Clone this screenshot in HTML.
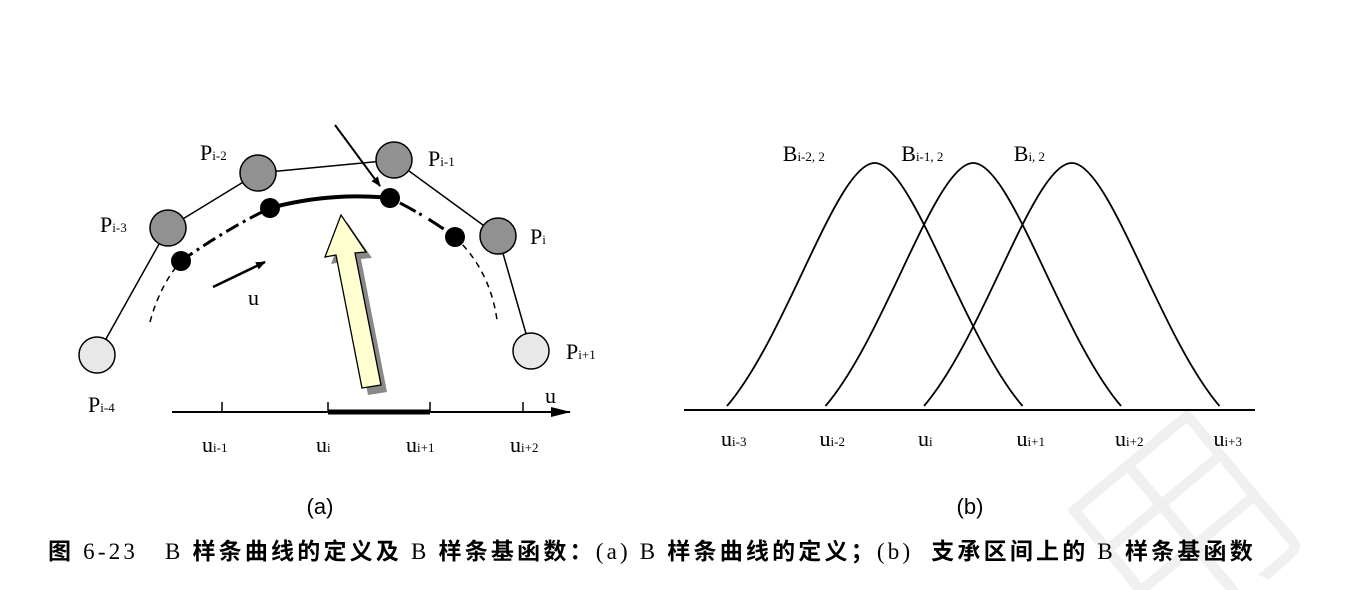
<!DOCTYPE html>
<html><head><meta charset="utf-8">
<style>
html,body{margin:0;padding:0;background:#fff;width:1360px;height:590px;overflow:hidden}
svg{display:block}
.s{font-family:"Liberation Serif","Noto Serif CJK SC",serif}
.sub{font-size:13px}
.cj{font-family:"Noto Sans CJK SC",sans-serif;font-weight:bold}
</style></head>
<body>
<svg width="1360" height="590" viewBox="0 0 1360 590" style="overflow:hidden">
<defs>
<marker id="ah" markerWidth="10" markerHeight="8" refX="9" refY="4" orient="auto" markerUnits="userSpaceOnUse"><path d="M0,0 L10,4 L0,8 Z" fill="#000"/></marker>
<marker id="ah2" markerWidth="20" markerHeight="10" refX="19" refY="5" orient="auto" markerUnits="userSpaceOnUse"><path d="M0,0 L20,5 L0,10 Z" fill="#000"/></marker>
<clipPath id="clipAll"><rect x="0" y="0" width="1360" height="590"/></clipPath>
</defs>
<g clip-path="url(#clipAll)">
<text x="1060" y="620" font-size="220" fill="#f0f0f0" transform="rotate(-40 1160 520)" font-family="Noto Sans CJK SC, sans-serif" font-weight="300">用</text>
</g>

<g>
<polyline points="97,355 168,228 258,173 394,160 498,236 531,351" fill="none" stroke="#000" stroke-width="1.5"/>
<path d="M150,322 Q160,285 181,261" fill="none" stroke="#000" stroke-width="1.5" stroke-dasharray="6,5"/>
<path d="M181,261 Q225,230 270,208" fill="none" stroke="#000" stroke-width="3" stroke-dasharray="14,5,3,5"/>
<path d="M270,208 Q330,192 390,198" fill="none" stroke="#000" stroke-width="4"/>
<path d="M390,198 Q425,215 455,237" fill="none" stroke="#000" stroke-width="3" stroke-dasharray="3,8,18,4"/>
<path d="M455,237 Q490,270 497,320" fill="none" stroke="#000" stroke-width="1.5" stroke-dasharray="6,5"/>
<circle cx="97" cy="355" r="18" fill="#e8e8e8" stroke="#000" stroke-width="1.5"/>
<circle cx="168" cy="228" r="18" fill="#919191" stroke="#000" stroke-width="1.5"/>
<circle cx="258" cy="173" r="18" fill="#919191" stroke="#000" stroke-width="1.5"/>
<circle cx="394" cy="160" r="18" fill="#919191" stroke="#000" stroke-width="1.5"/>
<circle cx="498" cy="236" r="18" fill="#919191" stroke="#000" stroke-width="1.5"/>
<circle cx="531" cy="351" r="18" fill="#e8e8e8" stroke="#000" stroke-width="1.5"/>
<circle cx="181" cy="261" r="10" fill="#000"/>
<circle cx="270" cy="208" r="10" fill="#000"/>
<circle cx="390" cy="198" r="10" fill="#000"/>
<circle cx="455" cy="237" r="10" fill="#000"/>
<line x1="335" y1="125" x2="380" y2="186" stroke="#000" stroke-width="2" marker-end="url(#ah)"/>
<line x1="213" y1="287" x2="265" y2="262" stroke="#000" stroke-width="2.5" marker-end="url(#ah)"/>
<text x="248" y="305" class="s" font-size="22">u</text>
<polygon points="347,222 372,258 361,259 387,392 368,395 342,262 331,264" fill="#888"/>
<polygon points="341,215 366,252 355,253 381,385 362,388 336,255 325,257" fill="#ffffd0" stroke="#000" stroke-width="1.3"/>
<g class="s" font-size="22">
<text x="200" y="160">P<tspan class="sub">i-2</tspan></text>
<text x="100" y="232">P<tspan class="sub">i-3</tspan></text>
<text x="428" y="166">P<tspan class="sub">i-1</tspan></text>
<text x="530" y="244">P<tspan class="sub">i</tspan></text>
<text x="566" y="359">P<tspan class="sub">i+1</tspan></text>
<text x="88" y="412">P<tspan class="sub">i-4</tspan></text>
<text x="545" y="403">u</text>
<text x="202" y="452">u<tspan class="sub">i-1</tspan></text>
<text x="316" y="452">u<tspan class="sub">i</tspan></text>
<text x="406" y="452">u<tspan class="sub">i+1</tspan></text>
<text x="510" y="452">u<tspan class="sub">i+2</tspan></text>
</g>
<line x1="172" y1="412" x2="570" y2="412" stroke="#000" stroke-width="2" marker-end="url(#ah2)"/>
<line x1="328" y1="412" x2="430" y2="412" stroke="#000" stroke-width="5"/>
<g stroke="#000" stroke-width="1.5">
<line x1="222" y1="402" x2="222" y2="412"/><line x1="328" y1="402" x2="328" y2="412"/><line x1="430" y1="402" x2="430" y2="412"/><line x1="523" y1="402" x2="523" y2="412"/>
</g>
<text x="320" y="514" font-family="Liberation Sans, sans-serif" font-size="22" text-anchor="middle">(a)</text>
</g>

<g id="panelB">
<line x1="684" y1="410" x2="1255" y2="410" stroke="#000" stroke-width="2"/>
<text x="970" y="514" font-family="Liberation Sans, sans-serif" font-size="22" text-anchor="middle">(b)</text>
</g>

<text x="48" y="559" font-family="Liberation Serif, Noto Sans CJK SC, sans-serif" font-size="23" letter-spacing="3.2" xml:space="preserve"><tspan class="cj">图</tspan> 6-23   B <tspan class="cj">样条曲线的定义及</tspan> B <tspan class="cj">样条基函数：</tspan>(a) B <tspan class="cj">样条曲线的定义；</tspan>(b)  <tspan class="cj">支承区间上的</tspan> B <tspan class="cj">样条基函数</tspan></text>
</svg>
<script>
var knots = [0, 1, 2, 3, 4, 5];
var knotLabels = ['i-3','i-2','i','i+1','i+2','i+3'];
var basisNames = ['i-2, 2','i-1, 2','i, 2'];
var basisStart = [0, 1, 2];
var basisPeak = [1, 1, 1];
var SVGNS = 'http://www.w3.org/2000/svg';
var g = document.getElementById('panelB');
function xs(u){ return 727 + u * 98.5; }
function ys(v){ return 406 - v * 243; }
basisStart.forEach(function(s, i){
  var x0 = xs(s), x2 = xs(s + 3), xm = xs(s + 1.5);
  var y0 = ys(0), yp = ys(basisPeak[i]);
  var d = 'M' + x0 + ',' + y0 + ' C' + (x0 + 60) + ',' + (y0 - 70) + ' ' + (xm - 38) + ',' + yp + ' ' + xm + ',' + yp +
          ' C' + (xm + 38) + ',' + yp + ' ' + (x2 - 60) + ',' + (y0 - 70) + ' ' + x2 + ',' + y0;
  var p = document.createElementNS(SVGNS, 'path');
  p.setAttribute('d', d); p.setAttribute('fill', 'none'); p.setAttribute('stroke', '#000'); p.setAttribute('stroke-width', '1.8');
  
  
  g.appendChild(p);
  var t = document.createElementNS(SVGNS, 'text');
  t.setAttribute('x', xm - 100 + (i === 0 ? 8 : i === 1 ? 28 : 42)); t.setAttribute('y', yp - 2);
  t.setAttribute('font-family', 'Liberation Serif, serif'); t.setAttribute('font-size', '22');
  t.innerHTML = 'B<tspan font-size="13">' + basisNames[i] + '</tspan>';
  
  
  g.appendChild(t);
});
knots.forEach(function(k, i){
  var t = document.createElementNS(SVGNS, 'text');
  t.setAttribute('x', xs(k) - 6); t.setAttribute('y', 446);
  t.setAttribute('font-family', 'Liberation Serif, serif'); t.setAttribute('font-size', '22');
  t.innerHTML = 'u<tspan font-size="13">' + knotLabels[i] + '</tspan>';
  
  
  g.appendChild(t);
});
</script>
</body></html>
